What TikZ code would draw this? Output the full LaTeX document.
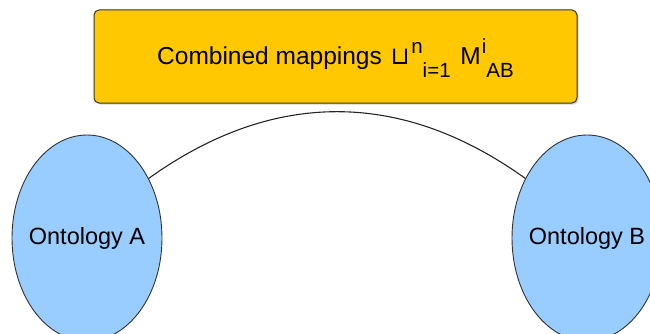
\documentclass[tikz,border=0pt]{standalone}
\usepackage{fontspec}
\setmainfont{Liberation Sans}
\newfontfamily\dejavu{DejaVu Sans}
\usetikzlibrary{shapes.geometric,shadows}
\definecolor{boxfill}{HTML}{FFC800}
\definecolor{ellfill}{HTML}{99CCFF}
\definecolor{edge}{HTML}{333333}
\newcommand{\scr}[2]{\raisebox{#1}{\fontsize{20.5}{22}\selectfont #2}}
\tikzset{
  ontology/.style={ellipse, draw=edge, line width=0.9pt, fill=ellfill,
    minimum width=150pt, minimum height=206pt, inner sep=0pt},
  ontolabel/.style={inner sep=0pt, font=\fontsize{23.5}{26}\selectfont},
  titlebox/.style={rectangle, rounded corners=5pt, draw=edge, line width=1pt,
    fill=boxfill, minimum width=483pt, minimum height=93pt, inner sep=0pt,
    drop shadow={shadow xshift=1.5pt, shadow yshift=-1.5pt, opacity=0.35}},
  titletext/.style={inner sep=0pt, font=\fontsize{24.5}{28}\selectfont},
  link/.style={draw=black!85, line width=1.1pt}
}
\begin{document}
\begin{tikzpicture}[x=1pt,y=1pt]
  \useasboundingbox (0,0) rectangle (650,333);
  \clip (0,0) rectangle (650,333);
  \node[titlebox] (box) at (335.5,276.5) {};
  \node[titletext, anchor=base west] (title) at (157,269)
    {Combined mappings\ \hspace{2pt}{\dejavu ⊔}\hspace{1.5pt}\scr{11pt}{n}\scr{-13pt}{i=1}\hspace{3pt} M\hspace{1pt}\scr{11pt}{i}\scr{-13pt}{AB}};
  \node[ontology] (A) at (87,95) {};
  \node[ontology] (B) at (587,95) {};
  \node[ontolabel] (la) at (A.center) {Ontology A};
  \node[ontolabel] (lb) at (B.center) {Ontology B};
  \draw[link] (A.44) .. controls +(124pt,89pt) and +(-124pt,89pt) .. (B.136);
\end{tikzpicture}
\end{document}
